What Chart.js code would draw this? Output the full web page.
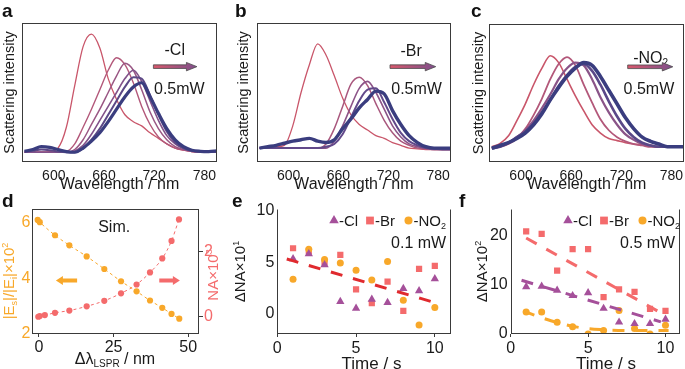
<!DOCTYPE html>
<html>
<head>
<meta charset="utf-8">
<script src="https://cdn.jsdelivr.net/npm/chart.js@4.4.0/dist/chart.umd.min.js"></script>
<style>
body { margin: 0; background: #fff; width: 685px; height: 369px; position: relative; overflow: hidden; }
canvas { position: absolute; }
</style>
</head>
<body>
<canvas id="ca" width="228" height="195" style="left:0;top:0"></canvas>
<canvas id="cb" width="228" height="195" style="left:228px;top:0"></canvas>
<canvas id="cc" width="230" height="195" style="left:455px;top:0"></canvas>
<canvas id="cd" width="228" height="179" style="left:0;top:190px"></canvas>
<canvas id="ce" width="228" height="179" style="left:228px;top:190px"></canvas>
<canvas id="cf" width="230" height="179" style="left:455px;top:190px"></canvas>
<script>
const FONT = '"Liberation Sans", Arial, Helvetica, sans-serif';

// a-c: scattering spectra, wavelength grid (nm) and normalised intensity, red -> navy
const wl = [565, 575, 585, 595, 605, 615, 625, 635, 645, 655, 665, 675, 685, 695, 705, 715, 725, 735, 745, 755, 765, 775, 785, 795];
const specTicks = [600, 660, 720, 780];

const a1 = [.07, .07, .07, .075, .10, .25, .55, .83, .92, .82, .60, .45, .34, .29, .26, .21, .17, .13, .10, .085, .075, .07, .07, .07];
const a2 = [.07, .07, .07, .07, .07, .075, .13, .25, .38, .52, .66, .75, .70, .57, .40, .27, .18, .13, .10, .085, .075, .07, .07, .07];
const a3 = [.07, .07, .07, .07, .07, .07, .09, .16, .27, .38, .50, .62, .71, .66, .52, .36, .24, .16, .11, .09, .075, .07, .07, .07];
const a4 = [.07, .07, .07, .07, .07, .07, .08, .12, .20, .30, .40, .50, .60, .66, .58, .44, .30, .19, .13, .095, .08, .07, .07, .07];
const a5 = [.075, .08, .09, .085, .075, .07, .07, .10, .16, .24, .34, .44, .54, .61, .60, .48, .34, .22, .14, .10, .08, .075, .075, .075];
const a6 = [.077, .09, .11, .105, .09, .075, .07, .10, .15, .21, .29, .38, .47, .54, .57, .47, .35, .24, .16, .11, .085, .077, .075, .08];

const b1 = [.10, .10, .11, .12, .26, .50, .70, .85, .77, .62, .46, .34, .27, .23, .19, .17, .14, .12, .10, .095, .09, .09, .09, .09];
const b2 = [.10, .10, .10, .10, .10, .10, .10, .10, .13, .24, .40, .56, .61, .55, .42, .30, .21, .15, .12, .10, .095, .09, .09, .09];
const b3 = [.10, .10, .10, .10, .10, .10, .10, .10, .10, .15, .26, .40, .53, .58, .50, .38, .26, .18, .13, .11, .10, .09, .09, .09];
const b4 = [.10, .10, .10, .10, .10, .10, .10, .10, .11, .13, .20, .32, .44, .52, .53, .43, .31, .21, .15, .12, .10, .095, .09, .09];
const b5 = [.10, .11, .12, .135, .15, .16, .17, .15, .14, .16, .24, .31, .39, .45, .51, .49, .37, .27, .19, .14, .11, .10, .10, .10];

const c1 = [.11, .135, .19, .30, .42, .56, .68, .77, .72, .60, .48, .37, .27, .21, .17, .155, .14, .13, .125, .115, .11, .11, .11, .11];
const c2 = [.10, .11, .13, .17, .24, .34, .46, .60, .71, .76, .70, .56, .43, .31, .23, .18, .15, .13, .12, .11, .11, .11, .11, .11];
const c3 = [.10, .12, .14, .18, .23, .30, .39, .49, .60, .68, .72, .70, .60, .47, .36, .27, .20, .16, .13, .12, .11, .11, .11, .11];
const c4 = [.10, .11, .14, .18, .22, .28, .36, .45, .55, .63, .69, .71, .66, .56, .44, .33, .24, .18, .14, .12, .11, .11, .11, .11];
const c5 = [.10, .12, .14, .17, .21, .27, .35, .45, .54, .62, .68, .72, .70, .62, .52, .42, .32, .24, .18, .15, .13, .11, .11, .11];

// d: simulation, field enhancement (left axis) and NA (right axis) vs LSPR shift
const dShiftE = [-0.4, 0.3, 5.4, 10.2, 16, 21.9, 27.5, 32.7, 37.2, 41.3, 44.4, 47];
const dField = [6.09, 6.01, 5.54, 5.18, 4.78, 4.33, 3.89, 3.53, 3.2, 2.94, 2.72, 2.55];
const dShiftNA = [-0.2, 0.3, 2.0, 5.4, 10.2, 16, 21.9, 27.5, 32.7, 37.2, 41.3, 44.4, 46.9];
const dNA = [0, 0.02, 0.05, 0.12, 0.19, 0.32, 0.49, 0.72, 0.99, 1.36, 1.79, 2.33, 2.99];
const dTicksX = [0, 25, 50];
const dTicksL = [2, 4, 6];
const dTicksR = [0, 2];

// e, f: delta NA over time
const time = [1, 2, 3, 4, 5, 6, 7, 8, 9, 10];
const eCl = [5.34, 5.83, 4.76, 1.2, 0.55, 1.42, 1.1, 2.46, 2.23, 3.4];
const eBr = [6.37, 6.1, 5.0, 5.73, 2.39, 1.04, 3.14, 0.29, 4.37, 4.66];
const eNO2 = [3.37, 6.28, 5.27, 4.95, 4.24, 3.3, 5.08, 1.33, -1.07, 0.61];
const eFitX = [0.6, 10.4];
const eFitY = [5.33, 0.92];

const fCl = [9.6, 9.7, 8.9, 7.8, 8.4, 5.2, 2.4, 2.1, 2.1, 3.0];
const fBr = [20.9, 20.4, 12.9, 17.3, 17.3, 7.5, 9.1, 8.6, 5.1, 4.7];
const fNO2 = [4.5, 4.5, 2.4, 1.5, 0.0, 0.7, 4.8, 1.1, 0.0, 1.8];
const fFitBrX = [1, 10];
const fFitBrY = [19.55, 3.8];
const fFitClX = [0.7, 9.7];
const fFitClY = [10.94, 2.48];
const fFitNO2X = [0.8, 2.6, 4.3, 5.8, 7.4, 10.2];
const fFitNO2Y = [4.7, 2.7, 1.4, 0.9, 0.72, 0.7];
const efTicksX = [0, 5, 10];
const eTicksY = [0, 5, 10];
const fTicksY = [0, 10, 20];

const PURPLE = '#a5509a';
const SALMON = '#f46b6c';
const ORANGE = '#f8a82a';
const AXIS = '#3a3a3a';
const TXT = '#1a1a1a';

function pts(xs, ys) {
    return xs.map((x, i) => ({ x: x, y: ys[i] }));
}

// text with sub/superscript pieces, y = middle of capitals
function rich(ctx, parts, x, y, size, color, align, rot) {
    ctx.save();
    ctx.translate(x, y);
    if (rot) ctx.rotate(rot);
    ctx.fillStyle = color;
    ctx.textAlign = 'left';
    ctx.textBaseline = 'alphabetic';
    const fnt = p => ((p.sub || p.sup) ? Math.round(size * 0.62) : size) + 'px ' + FONT;
    let w = 0;
    parts.forEach(p => { ctx.font = fnt(p); w += ctx.measureText(p.t).width; });
    let cx = align === 'center' ? -w / 2 : (align === 'right' ? -w : 0);
    parts.forEach(p => {
        ctx.font = fnt(p);
        const dy = p.sub ? size * 0.18 : (p.sup ? -size * 0.42 : 0);
        ctx.fillText(p.t, cx, size * 0.36 + dy);
        cx += ctx.measureText(p.t).width;
    });
    ctx.restore();
}

function panelLetter(ctx, t, x) {
    ctx.save();
    ctx.font = 'bold 19px ' + FONT;
    ctx.fillStyle = '#111';
    ctx.textBaseline = 'alphabetic';
    ctx.fillText(t, x, 17);
    ctx.restore();
}

function frame(ctx, a, sides) {
    const l = Math.round(a.left) + 0.5, r = Math.round(a.right) - 0.5;
    const t = Math.round(a.top) + 0.5, b = Math.round(a.bottom) - 0.5;
    ctx.save();
    ctx.strokeStyle = AXIS;
    ctx.lineWidth = 1;
    ctx.beginPath();
    if (sides.includes('l')) { ctx.moveTo(l, t); ctx.lineTo(l, b + 0.5); }
    if (sides.includes('b')) { ctx.moveTo(l - 0.5, b); ctx.lineTo(r + 0.5, b); }
    if (sides.includes('r')) { ctx.moveTo(r, t); ctx.lineTo(r, b + 0.5); }
    if (sides.includes('t')) { ctx.moveTo(l - 0.5, t); ctx.lineTo(r + 0.5, t); }
    ctx.stroke();
    ctx.restore();
}

function arrow(ctx, x1, x2, y, fill, shaft, head, headLen, outline) {
    const dir = x2 > x1 ? 1 : -1;
    const xb = x2 - dir * headLen;
    ctx.save();
    ctx.beginPath();
    ctx.moveTo(x1, y - shaft);
    ctx.lineTo(xb, y - shaft);
    ctx.lineTo(xb, y - head);
    ctx.lineTo(x2, y);
    ctx.lineTo(xb, y + head);
    ctx.lineTo(xb, y + shaft);
    ctx.lineTo(x1, y + shaft);
    ctx.closePath();
    if (Array.isArray(fill)) {
        const g = ctx.createLinearGradient(x1, 0, x2, 0);
        g.addColorStop(0, fill[0]);
        g.addColorStop(1, fill[1]);
        ctx.fillStyle = g;
    } else {
        ctx.fillStyle = fill;
    }
    ctx.fill();
    if (outline) {
        ctx.strokeStyle = outline;
        ctx.lineWidth = 0.8;
        ctx.stroke();
    }
    ctx.restore();
}

function marker(ctx, style, x, y, r, color) {
    ctx.save();
    ctx.fillStyle = color;
    ctx.beginPath();
    if (style === 'triangle') {
        ctx.moveTo(x, y - r);
        ctx.lineTo(x + r * 0.866, y + r * 0.5);
        ctx.lineTo(x - r * 0.866, y + r * 0.5);
        ctx.closePath();
    } else if (style === 'rect') {
        const h = r * Math.SQRT1_2;
        ctx.rect(x - h, y - h, 2 * h, 2 * h);
    } else {
        ctx.arc(x, y, r, 0, Math.PI * 2);
    }
    ctx.fill();
    ctx.restore();
}

function xAxis(min, max, ticks, h, size, tickLen, pad) {
    return {
        type: 'linear', min: min, max: max,
        afterBuildTicks: s => { s.ticks = ticks.map(v => ({ value: v })); },
        afterFit: s => { s.height = h; s.paddingLeft = 0; s.paddingRight = 0; },
        ticks: { font: { family: FONT, size: size }, color: TXT, padding: pad, maxRotation: 0, autoSkip: false },
        grid: { drawOnChartArea: false, drawTicks: tickLen > 0, tickLength: tickLen, color: AXIS },
        border: { display: false }
    };
}

function yAxis(min, max, ticks, w, size, color, pos, tickLen, pad) {
    return {
        type: 'linear', position: pos, min: min, max: max,
        afterBuildTicks: s => { s.ticks = ticks.map(v => ({ value: v })); },
        afterFit: s => { s.width = w; s.paddingTop = 0; s.paddingBottom = 0; },
        ticks: { font: { family: FONT, size: size }, color: color, padding: pad, autoSkip: false },
        grid: { drawOnChartArea: false, drawTicks: tickLen > 0, tickLength: tickLen, color: AXIS },
        border: { display: false }
    };
}

const baseOpts = {
    animation: false,
    responsive: false,
    plugins: { legend: { display: false }, tooltip: { enabled: false } }
};

// ---------- spectra a, b, c ----------
function makeSpec(id, curves, cols, widths, box, deco) {
    const cv = document.getElementById(id);
    const sets = curves.map((c, i) => ({
        data: pts(wl, c),
        borderColor: cols[i],
        borderWidth: widths[i],
        pointRadius: 0,
        cubicInterpolationMode: 'monotone'
    })).reverse();
    return new Chart(cv, {
        type: 'line',
        data: { datasets: sets },
        options: Object.assign({}, baseOpts, {
            layout: { padding: { left: 0, top: box.t, right: cv.width - box.r, bottom: 0 } },
            scales: {
                x: xAxis(562, 795, specTicks, cv.height - box.b, 14, 0, 6),
                y: {
                    type: 'linear', min: 0, max: 1,
                    ticks: { display: false }, grid: { display: false }, border: { display: false },
                    afterFit: s => { s.width = box.l; }
                }
            }
        }),
        plugins: [{ id: 'deco', afterDraw: deco }]
    });
}

function specDeco(letter, letterX, titleX, tag, arrowWl, tagPos, powPos) {
    return chart => {
        const ctx = chart.ctx, a = chart.chartArea;
        const xs = chart.scales.x, ys = chart.scales.y;
        frame(ctx, a, 'lbrt');
        panelLetter(ctx, letter, letterX);
        rich(ctx, [{ t: 'Wavelength / nm' }], (a.left + a.right) / 2, 183, 16, TXT, 'center');
        rich(ctx, [{ t: 'Scattering intensity' }], titleX, (a.top + a.bottom) / 2, 14.5, TXT, 'center', -Math.PI / 2);
        rich(ctx, tag, xs.getPixelForValue(tagPos[0]), ys.getPixelForValue(tagPos[1]), 16, TXT, 'center');
        rich(ctx, [{ t: '0.5mW' }], xs.getPixelForValue(powPos[0]), ys.getPixelForValue(powPos[1]), 16, TXT, 'center');
        arrow(ctx, xs.getPixelForValue(arrowWl[0]), xs.getPixelForValue(arrowWl[1]), ys.getPixelForValue(arrowWl[2]),
            ['#d8586c', '#7f4f8c'], 1.8, 4.2, 10.5, '#4a4a4a');
    };
}

makeSpec('ca', [a1, a2, a3, a4, a5, a6],
    ['#c9566a', '#b3587a', '#9a5784', '#82528a', '#5c4886', '#3a3d7f'],
    [1.3, 1.4, 1.5, 1.6, 2, 3.2],
    { l: 22, t: 23, r: 217, b: 162 },
    specDeco('a', 2, 9, [{ t: '-Cl' }], [719, 771, 0.686], [744.5, 0.813], [750, 0.529]));

makeSpec('cb', [b1, b2, b3, b4, b5],
    ['#c9566a', '#a9587e', '#8c5488', '#62498a', '#3a3d7f'],
    [1.3, 1.5, 1.6, 2, 3.4],
    { l: 29, t: 23, r: 222.7, b: 162 },
    specDeco('b', 7, 15, [{ t: '-Br' }], [722, 777, 0.686], [747.3, 0.806], [754, 0.53]));

makeSpec('cc', [c1, c2, c3, c4, c5],
    ['#c9566a', '#b3587a', '#8a5488', '#5a4888', '#3a3d7f'],
    [1.6, 1.8, 2.2, 2.6, 3.6],
    { l: 34.3, t: 24, r: 229, b: 162 },
    specDeco('c', 16, 23, [{ t: '-NO' }, { t: '2', sub: true }], [727.6, 781.6, 0.69], [755, 0.76], [753, 0.534]));

// ---------- d ----------
(function () {
    const cv = document.getElementById('cd');
    const box = { l: 32.3, t: 19.3, r: 199, b: 144 };
    new Chart(cv, {
        type: 'scatter',
        data: {
            datasets: [
                {
                    data: pts(dShiftE, dField), yAxisID: 'y', showLine: true,
                    borderColor: ORANGE, borderWidth: 1, borderDash: [3, 3], cubicInterpolationMode: 'monotone',
                    pointRadius: 3.1, pointBackgroundColor: ORANGE, pointBorderWidth: 0
                },
                {
                    data: pts(dShiftNA, dNA), yAxisID: 'y2', showLine: true,
                    borderColor: SALMON, borderWidth: 1, borderDash: [3, 3], cubicInterpolationMode: 'monotone',
                    pointRadius: 3.1, pointBackgroundColor: SALMON, pointBorderWidth: 0
                }
            ]
        },
        options: Object.assign({}, baseOpts, {
            layout: { padding: { left: 0, top: box.t, right: 0, bottom: 0 } },
            scales: {
                x: xAxis(-2.2, 53.6, dTicksX, cv.height - box.b, 16, 3, 1),
                y: yAxis(2, 6.47, dTicksL, box.l, 16, ORANGE, 'left', 0, 2),
                y2: yAxis(-0.53, 3.3, dTicksR, cv.width - box.r, 16, SALMON, 'right', 4, 1)
            }
        }),
        plugins: [{
            id: 'deco', afterDraw: chart => {
                const ctx = chart.ctx, a = chart.chartArea;
                const xs = chart.scales.x, ys = chart.scales.y;
                frame(ctx, a, 'lbrt');
                panelLetter(ctx, 'd', 2);
                rich(ctx, [{ t: 'Sim.' }], xs.getPixelForValue(25.2), ys.getPixelForValue(5.86), 16, TXT, 'center');
                const ay = ys.getPixelForValue(3.92);
                arrow(ctx, xs.getPixelForValue(12.8), xs.getPixelForValue(5.7), ay, ORANGE, 2, 4.5, 7);
                arrow(ctx, xs.getPixelForValue(40.3), xs.getPixelForValue(47.2), ay, SALMON, 2, 4.5, 7);
                rich(ctx, [{ t: '|E' }, { t: 's', sub: true }, { t: '|/|E' }, { t: 'i', sub: true }, { t: '|×10' }, { t: '2', sup: true }],
                    9, 91, 15, ORANGE, 'center', -Math.PI / 2);
                rich(ctx, [{ t: 'NA×10' }, { t: '3', sup: true }], 213, 85, 15, SALMON, 'center', -Math.PI / 2);
                rich(ctx, [{ t: 'Δλ' }, { t: 'LSPR', sub: true }, { t: ' / nm' }], 115, 168.5, 16, TXT, 'center');
            }
        }]
    });
})();

// ---------- e, f ----------
function legendRow(ctx, items, y) {
    items.forEach(it => {
        marker(ctx, it.style, it.mx, y, it.r, it.color);
        rich(ctx, it.text, it.tx, y, 15, TXT, 'left');
    });
}

function makeTime(id, sets, yMin, yMax, yTicks, box, deco) {
    const cv = document.getElementById(id);
    return new Chart(cv, {
        type: 'scatter',
        data: { datasets: sets },
        options: Object.assign({}, baseOpts, {
            layout: { padding: { left: 0, top: box.t, right: cv.width - box.r, bottom: 0 } },
            scales: {
                x: xAxis(0, box.xMax, efTicksX, cv.height - box.b, 16, 3, 2),
                y: yAxis(yMin, yMax, yTicks, box.l, 16, TXT, 'left', 0, 3)
            }
        }),
        plugins: [{ id: 'deco', afterDraw: deco }]
    });
}

function markSet(ys, style, color, r) {
    return { data: pts(time, ys), pointStyle: style, pointRadius: r, pointBackgroundColor: color, pointBorderWidth: 0 };
}

function fitSet(xs, ys, color) {
    return {
        data: pts(xs, ys), showLine: true, pointRadius: 0, borderColor: color, borderWidth: 3,
        borderDash: [12, 11], cubicInterpolationMode: 'monotone'
    };
}

function legendItems(x0) {
    return [
        { style: 'triangle', mx: x0, r: 5.5, color: PURPLE, tx: x0 + 5, text: [{ t: '-Cl' }] },
        { style: 'rect', mx: x0 + 36, r: 5.5, color: SALMON, tx: x0 + 41, text: [{ t: '-Br' }] },
        { style: 'circle', mx: x0 + 74.5, r: 4, color: ORANGE, tx: x0 + 79.5, text: [{ t: '-NO' }, { t: '2', sub: true }] }
    ];
}

function timeDeco(letter, letterX, exp, yTitleX, xTitleX, legendX, power) {
    return chart => {
        const ctx = chart.ctx, a = chart.chartArea;
        frame(ctx, a, 'lbr');
        panelLetter(ctx, letter, letterX);
        legendRow(ctx, legendItems(legendX), 30.5);
        rich(ctx, [{ t: power }], a.right - 5, 52, 16, TXT, 'right');
        rich(ctx, [{ t: 'ΔNA×10' }, { t: exp, sup: true }], yTitleX, 81.5, 15, TXT, 'center', -Math.PI / 2);
        rich(ctx, [{ t: 'Time / s' }], xTitleX, 172.5, 17, TXT, 'center');
    };
}

makeTime('ce', [
    fitSet(eFitX, eFitY, '#e02a2e'),
    markSet(eCl, 'triangle', PURPLE, 4.8),
    markSet(eNO2, 'circle', ORANGE, 3.5),
    markSet(eBr, 'rect', SALMON, 4.4)
], -1.95, 10.15, eTicksY, { l: 49.3, t: 19.3, r: 223.7, b: 144, xMax: 11.04 },
    timeDeco('e', 4, '1', 12, 143.5, 106, '0.1 mW'));

makeTime('cf', [
    fitSet(fFitBrX, fFitBrY, SALMON),
    fitSet(fFitClX, fFitClY, PURPLE),
    fitSet(fFitNO2X, fFitNO2Y, ORANGE),
    markSet(fCl, 'triangle', PURPLE, 4.8),
    markSet(fNO2, 'circle', ORANGE, 3.5),
    markSet(fBr, 'rect', SALMON, 4.4)
], 0, 25.4, fTicksY, { l: 55.7, t: 19.3, r: 228.3, b: 144, xMax: 10.95 },
    timeDeco('f', 4, '2', 26.5, 151, 113, '0.5 mW'));
</script>
</body>
</html>
